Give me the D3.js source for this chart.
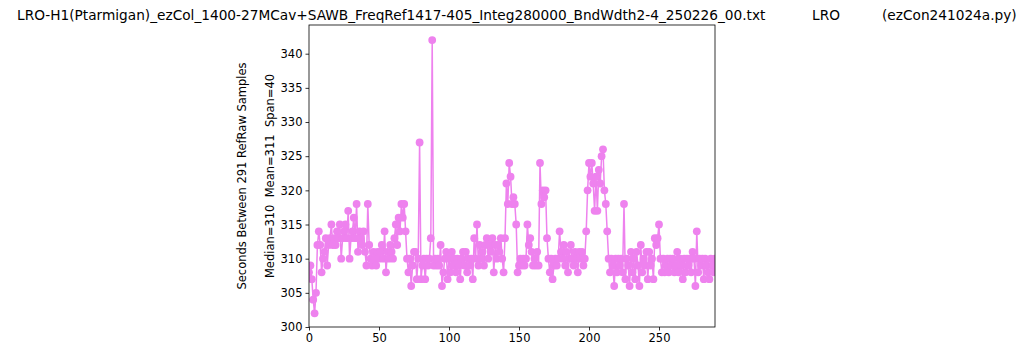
<!DOCTYPE html>
<html>
<head>
<meta charset="utf-8">
<script src="https://cdn.jsdelivr.net/npm/d3@7"></script>
<style>
    body { margin: 0; background: #fff; }
    svg { display: block; font-family: "DejaVu Sans", sans-serif; }
</style>
</head>
<body>
<div id="chart"></div>
<script>
    'use strict';
    // title pieces
    const titleParts = [
        "LRO-H1(Ptarmigan)_ezCol_1400-27MCav+SAWB_FreqRef1417-405_Integ280000_BndWdth2-4_250226_00.txt",
        "LRO",
        "(ezCon241024a.py)"
    ];
    const yLabelLines = [
        "Seconds Between 291 RefRaw Samples",
        "Median=310  Mean=311  Span=40"
    ];
    const xTicks = [0, 50, 100, 150, 200, 250];
    const yTicks = [300, 305, 310, 315, 320, 325, 330, 335, 340];

    // seconds between samples (index 0..290)
    const seconds = [
        308, 309, 307, 304, 302, 305, 312, 314, 312, 308,
        310, 311, 313, 309, 312, 313, 315, 312, 313, 312,
        314, 313, 315, 310, 313, 314, 315, 313, 317, 310,
        313, 314, 316, 313, 318, 311, 314, 313, 312, 314,
        311, 309, 318, 312, 310, 309, 311, 310, 309, 311,
        310, 311, 312, 310, 314, 308, 311, 310, 312, 311,
        310, 313, 315, 312, 316, 314, 318, 316, 318, 314,
        310, 308, 310, 306, 309, 311, 311, 307, 310, 327,
        307, 309, 310, 307, 310, 309, 310, 313, 342, 309,
        310, 309, 310, 309, 312, 306, 308, 310, 311, 307,
        310, 308, 311, 309, 310, 308, 310, 309, 307, 310,
        311, 309, 311, 308, 310, 309, 310, 307, 313, 310,
        315, 309, 312, 310, 311, 309, 312, 313, 310, 312,
        311, 313, 308, 312, 310, 312, 311, 313, 310, 308,
        313, 321, 318, 324, 322, 318, 319, 318, 315, 308,
        309, 310, 309, 310, 309, 310, 315, 312, 313, 311,
        309, 310, 309, 311, 309, 324, 318, 320, 319, 320,
        313, 310, 308, 310, 307, 309, 310, 309, 310, 314,
        311, 310, 312, 309, 311, 308, 310, 312, 310, 309,
        311, 310, 308, 311, 310, 311, 309, 310, 314, 320,
        324, 322, 324, 321, 317, 322, 317, 323, 321, 325,
        326, 320, 318, 314, 310, 308, 310, 309, 306, 310,
        308, 310, 309, 310, 308, 318, 307, 310, 309, 306,
        311, 308, 310, 307, 311, 309, 306, 312, 308, 310,
        309, 311, 307, 311, 309, 310, 307, 313, 312, 313,
        315, 310, 308, 310, 308, 309, 310, 308, 310, 309,
        310, 308, 309, 311, 308, 310, 309, 307, 310, 308,
        310, 309, 310, 308, 311, 310, 306, 314, 308, 310,
        309, 310, 307, 310, 309, 308, 307, 310, 309, 308,
        310
    ];

    const width = 1024, height = 355;
    const margin = {top: 25, right: 309, bottom: 28, left: 309};
    const color = 'violet';

    const svg = d3.select('#chart').append('svg')
        .attr('width', width)
        .attr('height', height);

    const x = d3.scaleLinear()
        .domain([0, seconds.length - 1])
        .range([margin.left, width - margin.right]);
    const y = d3.scaleLinear()
        .domain([300, 344.2])
        .range([height - margin.bottom, margin.top]);

    svg.append('defs').append('clipPath').attr('id', 'clip')
        .append('rect')
        .attr('x', margin.left).attr('y', margin.top)
        .attr('width', width - margin.left - margin.right)
        .attr('height', height - margin.top - margin.bottom);

    const plot = svg.append('g').attr('clip-path', 'url(#clip)');

    const line = d3.line()
        .x((d, i) => x(i))
        .y(d => y(d));

    plot.append('path')
        .datum(seconds)
        .attr('fill', 'none')
        .attr('stroke', color)
        .attr('stroke-width', 1.5)
        .attr('d', line);

    plot.append('g')
        .selectAll('circle')
        .data(seconds)
        .join('circle')
        .attr('cx', (d, i) => x(i))
        .attr('cy', d => y(d))
        .attr('r', 3.9)
        .attr('fill', color);

    // axes
    const xAxis = svg.append('g')
        .attr('transform', `translate(0,${height - margin.bottom})`)
        .call(d3.axisBottom(x).tickValues(xTicks).tickSize(3.5).tickPadding(3));
    const yAxis = svg.append('g')
        .attr('transform', `translate(${margin.left},0)`)
        .call(d3.axisLeft(y).tickValues(yTicks).tickSize(3.5).tickPadding(3));

    [xAxis, yAxis].forEach(ax => {
        ax.select('.domain').remove();
        ax.selectAll('text')
            .attr('fill', '#000')
            .style('font-size', '11.5px')
            .style('font-family', '"DejaVu Sans", sans-serif');
        ax.selectAll('line').attr('stroke', '#000').attr('stroke-width', 0.8);
    });

    // frame
    svg.append('rect')
        .attr('x', margin.left).attr('y', margin.top)
        .attr('width', width - margin.left - margin.right)
        .attr('height', height - margin.top - margin.bottom)
        .attr('fill', 'none')
        .attr('stroke', '#000')
        .attr('stroke-width', 0.8);

    // y label, two centred lines
    const midY = (margin.top + height - margin.bottom) / 2;
    svg.selectAll('.ylab')
        .data(yLabelLines)
        .join('text')
        .attr('class', 'ylab')
        .attr('transform', (d, i) => `translate(${246 + i * 28},${midY}) rotate(-90)`)
        .attr('text-anchor', 'middle')
        .style('font-size', '11.5px')
        .style('white-space', 'pre')
        .text(d => d);

    // title
    const titleX = [17, 812, 882];
    svg.selectAll('.title')
        .data(titleParts)
        .join('text')
        .attr('class', 'title')
        .attr('x', (d, i) => titleX[i])
        .attr('y', 20)
        .style('font-size', '13.7px')
        .text(d => d);
</script>
</body>
</html>
